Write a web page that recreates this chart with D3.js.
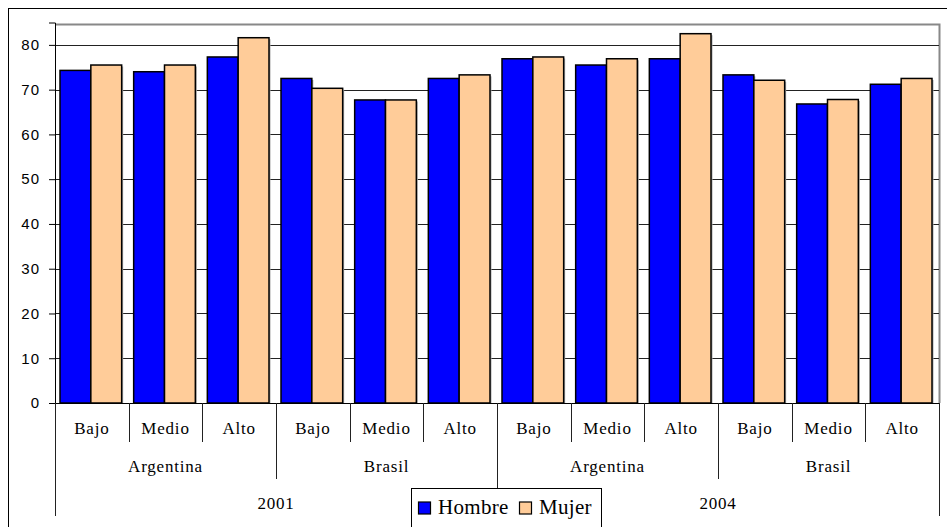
<!DOCTYPE html>
<html>
<head>
<meta charset="utf-8">
<script src="https://cdn.jsdelivr.net/npm/d3@7"></script>
<style>
  body { margin: 0; background: #fff; }
  svg { display: block; }
  .cat { font-family: "Liberation Serif", "Times New Roman", serif; font-size: 17px; letter-spacing: 0.8px; }
  .ytick text { font-family: "Liberation Sans", Arial, sans-serif; font-size: 15px; }
</style>
</head>
<body>
<svg id="chart" width="947" height="527"></svg>
<script>
const levels = ['Bajo', 'Medio', 'Alto'];
const countries = ['Argentina', 'Brasil'];
const years = ['2001', '2004'];
const seriesNames = ['Hombre', 'Mujer'];
const colors = ['#0000ff', '#ffcc99'];

const hombre = [74.3, 74.0, 77.3, 72.5, 67.7, 72.5, 76.9, 75.5, 76.9, 73.3, 66.8, 71.2];
const mujer  = [75.5, 75.5, 81.6, 70.3, 67.7, 73.3, 77.3, 76.9, 82.5, 72.1, 67.8, 72.5];
const yTicks = [0, 10, 20, 30, 40, 50, 60, 70, 80];

// build rows: year > country > level
const rows = [];
years.forEach(yr => countries.forEach(c => levels.forEach(l => {
  const i = rows.length;
  rows.push({ id: i, year: yr, country: c, level: l, values: [hombre[i], mujer[i]] });
})));

const svg = d3.select('#chart');
const plot = { left: 55, right: 939, top: 24, bottom: 403 };

const x0 = d3.scaleBand()
  .domain(rows.map(d => d.id))
  .range([plot.left, plot.right]);
const x1 = d3.scaleBand()
  .domain([0, 1])
  .range([5, x0.bandwidth() - 7]);
const y = d3.scaleLinear()
  .domain([0, 85])
  .range([plot.bottom, plot.top - 1.5]);

// outer chart frame
svg.append('rect')
  .attr('x', 8.5).attr('y', 8.5)
  .attr('width', 960).attr('height', 560)
  .attr('fill', 'none').attr('stroke', '#000');

// plot area border (top/right)
svg.append('path')
  .attr('d', `M${plot.left},${plot.top + 0.5}H${plot.right + 0.5}V${plot.bottom}`)
  .attr('fill', 'none').attr('stroke', '#888').attr('stroke-width', 2);

// gridlines
svg.append('g')
  .selectAll('line')
  .data(yTicks.filter(t => t > 0))
  .join('line')
  .attr('x1', plot.left).attr('x2', plot.right)
  .attr('y1', d => Math.round(y(d)) + 0.5).attr('y2', d => Math.round(y(d)) + 0.5)
  .attr('stroke', '#222');

// y axis
const yAxis = svg.append('g')
  .attr('class', 'ytick')
  .attr('transform', `translate(${plot.left},0)`)
  .call(d3.axisLeft(y).tickValues(yTicks).tickSize(6).tickPadding(9));
yAxis.select('.domain').attr('stroke', '#000');
yAxis.selectAll('.tick line').attr('stroke', '#000');
yAxis.selectAll('.tick text').attr('fill', '#000').attr('letter-spacing', '1px');

// bars
const groups = svg.append('g')
  .selectAll('g')
  .data(rows)
  .join('g')
  .attr('transform', d => `translate(${x0(d.id)},0)`);

groups.selectAll('rect.shadow')
  .data(d => d.values)
  .join('rect')
  .attr('class', 'shadow')
  .attr('x', (d, i) => x1(i) + 1.5)
  .attr('y', d => y(d) + 1.5)
  .attr('width', x1.bandwidth())
  .attr('height', d => y(0) - y(d) - 1.5)
  .attr('fill', '#aaa');

groups.selectAll('rect.bar')
  .data(d => d.values)
  .join('rect')
  .attr('class', 'bar')
  .attr('x', (d, i) => x1(i))
  .attr('y', d => y(d))
  .attr('width', x1.bandwidth())
  .attr('height', d => y(0) - y(d))
  .attr('fill', (d, i) => colors[i])
  .attr('stroke', '#000')
  .attr('stroke-width', 1.5);

// x axis baseline
svg.append('line')
  .attr('x1', plot.left - 6).attr('x2', plot.right)
  .attr('y1', plot.bottom + 0.5).attr('y2', plot.bottom + 0.5)
  .attr('stroke', '#000');

// multi-level category axis
const ax = svg.append('g');
const divider = (xv, y2) => ax.append('line')
  .attr('x1', Math.round(xv) + 0.5).attr('x2', Math.round(xv) + 0.5)
  .attr('y1', plot.bottom).attr('y2', y2)
  .attr('stroke', '#222');

rows.forEach((d, i) => {
  const xs = x0(d.id);
  if (i > 0) {
    if (i % 6 === 0) divider(xs, 516);
    else if (i % 3 === 0) divider(xs, 479);
    else divider(xs, 442);
  }
  ax.append('text').attr('class', 'cat')
    .attr('x', xs + x0.bandwidth() / 2).attr('y', 434)
    .attr('text-anchor', 'middle').text(d.level);
});
divider(plot.left, 516);
divider(plot.right, 516);

// level 2: countries
d3.groups(rows, d => d.year + d.country).forEach(([, g]) => {
  const xa = x0(g[0].id), xb = x0(g[g.length - 1].id) + x0.bandwidth();
  ax.append('text').attr('class', 'cat')
    .attr('x', (xa + xb) / 2).attr('y', 471.5)
    .attr('text-anchor', 'middle').text(g[0].country);
});

// level 3: years
d3.groups(rows, d => d.year).forEach(([yr, g]) => {
  const xa = x0(g[0].id), xb = x0(g[g.length - 1].id) + x0.bandwidth();
  ax.append('text').attr('class', 'cat')
    .attr('x', (xa + xb) / 2).attr('y', 508.5)
    .attr('text-anchor', 'middle').text(yr);
});

// legend
const lg = svg.append('g');
lg.append('rect')
  .attr('x', 411.5).attr('y', 488.5)
  .attr('width', 190).attr('height', 60)
  .attr('fill', '#fff').attr('stroke', '#000');
const legendX = [418, 519];
seriesNames.forEach((name, i) => {
  lg.append('rect')
    .attr('x', legendX[i] + 0.5).attr('y', 502)
    .attr('width', 12).attr('height', 12)
    .attr('fill', colors[i]).attr('stroke', '#000').attr('stroke-width', 1.2);
  lg.append('text')
    .attr('x', legendX[i] + 20).attr('y', 514)
    .attr('font-family', '"Liberation Serif", "Times New Roman", serif')
    .attr('font-size', '21px')
    .attr('letter-spacing', '0.3px')
    .text(name);
});
</script>
</body>
</html>
